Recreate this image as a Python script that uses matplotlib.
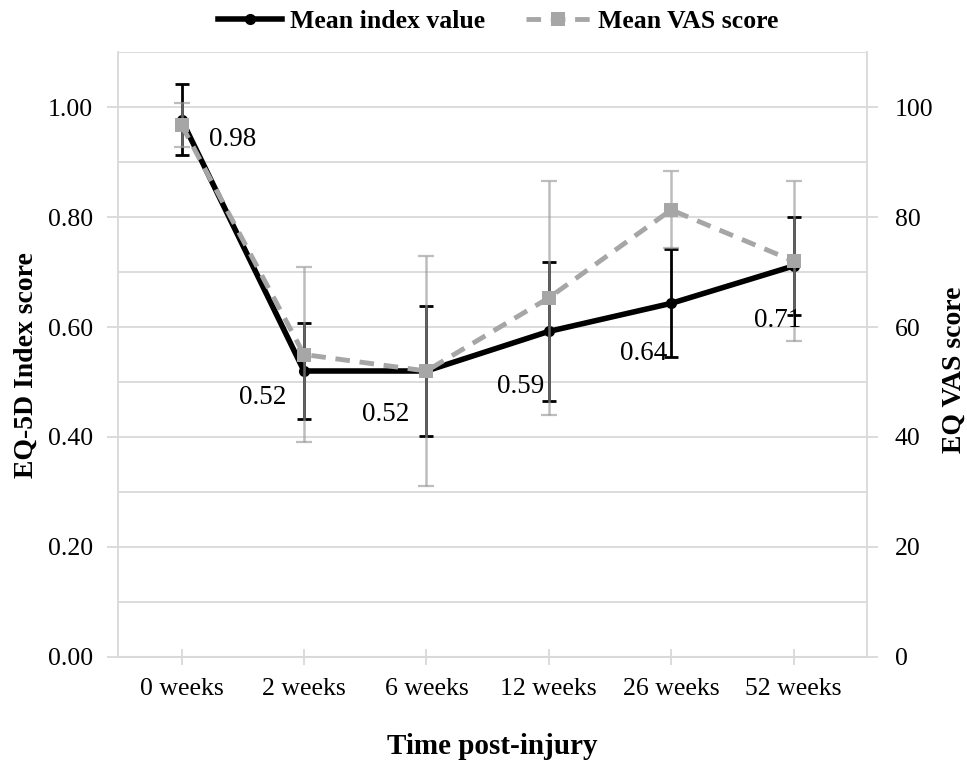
import matplotlib
matplotlib.use("Agg")
import matplotlib.pyplot as plt
from matplotlib.ticker import MultipleLocator, FormatStrFormatter
from matplotlib.lines import Line2D

categories = ["0 weeks", "2 weeks", "6 weeks", "12 weeks", "26 weeks", "52 weeks"]
index_mean = [0.977, 0.52, 0.52, 0.592, 0.643, 0.711]
index_err = [0.065, 0.088, 0.118, 0.127, 0.098, 0.089]
index_labels = ["0.98", "0.52", "0.52", "0.59", "0.64", "0.71"]
vas_mean = [96.7, 55.0, 52.0, 65.3, 81.3, 72.0]
vas_err = [4.0, 16.0, 21.0, 21.3, 7.0, 14.5]

plt.rcParams['font.family'] = ['Liberation Serif', 'DejaVu Serif']

fig = plt.figure(figsize=(9.67, 7.65), dpi=100)
ax = fig.add_axes([0.122, 0.1412, 0.7746, 0.7908])
ax2 = ax.twinx()

x = list(range(len(categories)))
grid_c = '#d9d9d9'

ax.set_xlim(-0.52, 5.6)
ax.set_ylim(0, 1.1)
ax2.set_ylim(0, 110)

ax.yaxis.set_major_locator(MultipleLocator(0.2))
ax.yaxis.set_minor_locator(MultipleLocator(0.1))
ax.yaxis.set_major_formatter(FormatStrFormatter('%.2f'))
ax.grid(True, axis='y', which='both', color=grid_c, lw=1.3, zorder=0)
ax2.yaxis.set_major_locator(MultipleLocator(20))

for a in (ax, ax2):
    for s in a.spines.values():
        s.set_visible(False)
ax.spines['left'].set_visible(True)
ax.spines['left'].set_color(grid_c)
ax.spines['left'].set_linewidth(1.3)
ax.spines['bottom'].set_visible(True)
ax.spines['bottom'].set_color(grid_c)
ax.spines['bottom'].set_linewidth(1.5)
ax2.spines['right'].set_visible(True)
ax2.spines['right'].set_color(grid_c)
ax2.spines['right'].set_linewidth(1.3)

ax.set_xticks(x)
ax.set_xticklabels(categories)
ax.tick_params(axis='x', direction='inout', length=12, width=1.3, color=grid_c,
               labelsize=18.5, pad=9)
ax.tick_params(axis='y', which='major', direction='out', length=8, width=1.3,
               color=grid_c, labelsize=18.5, pad=10)
ax.tick_params(axis='y', which='minor', length=0)
ax2.tick_params(axis='y', direction='out', length=8, width=1.3, color=grid_c,
                labelsize=18.5, pad=12)

ax.set_xlabel("Time post-injury", fontsize=21, fontweight='bold', labelpad=24)
ax.set_ylabel("EQ-5D Index score", fontsize=20, fontweight='bold')
ax2.set_ylabel("EQ VAS score", fontsize=20, fontweight='bold')
ax.yaxis.set_label_coords(-0.106, 0.483)
ax2.yaxis.set_label_coords(1.1, 0.475)

# index series (drawn on ax2 in scaled units so that VAS can overlay)
scale = 100.0
ax2.errorbar(x, [v * scale for v in index_mean], yerr=[e * scale for e in index_err],
             fmt='none', ecolor='black', elinewidth=2.0, capsize=5, capthick=2.0, zorder=2)
ax2.plot(x, [v * scale for v in index_mean], color='black', lw=4, marker='o',
         markersize=7, zorder=3)
ax2.errorbar(x, vas_mean, yerr=vas_err, fmt='none', ecolor='#9a9a9a', elinewidth=1.8,
             capsize=6, capthick=1.6, alpha=0.65, zorder=4)
ax2.plot(x, vas_mean, color='#a6a6a6', lw=3.5, ls=(0, (3, 2)), marker='s',
         markersize=10, markeredgewidth=0, zorder=5)

offsets = [(37, -14), (-29.5, -19), (-29.5, -31), (-20, -40), (-19.5, -36), (-11.5, -39)]
for xi, yi, lab, off in zip(x, index_mean, index_labels, offsets):
    ax2.annotate(lab, (xi, yi * scale), xytext=off, textcoords='offset points',
                 ha='center', va='center', fontsize=19.5, zorder=6)

handles = [
    Line2D([], [], color='black', lw=4, marker='o', markersize=7),
    Line2D([], [], color='#a6a6a6', lw=3.5, ls=(0, (3, 2)), marker='s', markersize=10,
           markeredgewidth=0),
]
leg = fig.legend(handles, ["Mean index value", "Mean VAS score"], loc='center',
                 bbox_to_anchor=(0.515, 0.972), ncol=2, frameon=False,
                 prop={'weight': 'bold', 'size': 18.5}, handlelength=2.5,
                 columnspacing=1.6, handletextpad=0.3)

fig.savefig("out.png", dpi=100)
